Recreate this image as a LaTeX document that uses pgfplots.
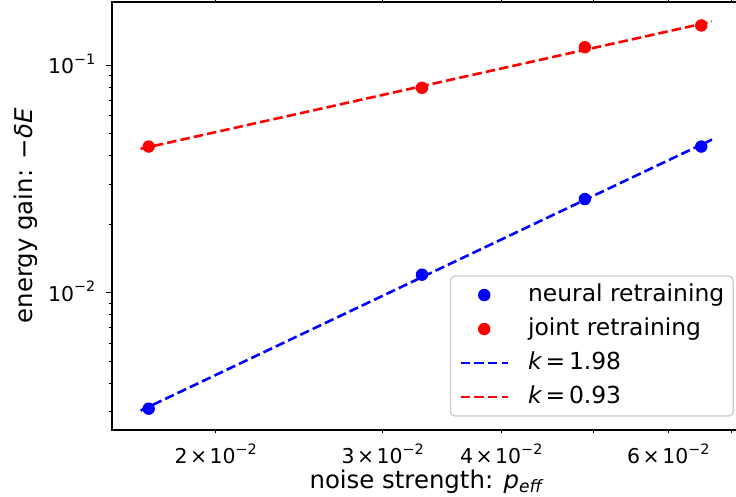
\documentclass[border=0pt]{standalone}
\usepackage{fontspec}
\setmainfont{DejaVu Sans}
\usepackage{pgfplots}
\pgfplotsset{compat=1.18}
\definecolor{mblue}{RGB}{0,0,255}
\definecolor{mred}{RGB}{255,0,0}
\newcommand\tickfont{\fontsize{20.5}{24}\selectfont}
\newcommand\labfont{\fontsize{24.5}{29}\selectfont}
\newcommand\legfont{\fontsize{23.5}{28}\selectfont}
\newcommand\sci[2]{#1\kern2.5bp×\kern2.5bp10\raisebox{0.45em}{\fontsize{14.4}{15}\selectfont −#2}}
\newcommand\pw[1]{10\raisebox{0.45em}{\fontsize{14.4}{15}\selectfont −#1}}
\begin{document}
\begin{tikzpicture}
\begin{axis}[
  xmode=log, ymode=log,
  scale only axis, width=628bp, height=428bp,
  xmin=0.01555, xmax=0.0714, ymin=0.00249, ymax=0.1897,
  axis line style={line width=1.37bp, black},
  every tick/.style={black, line width=1.37bp},
  minor tick style={line width=1.03bp},
  tick align=outside,
  major tick length=6bp, minor tick length=3.4bp,
  xtick={0.02,0.03,0.04,0.05,0.06,0.07},
  xticklabels={\sci{2}{2},\sci{3}{2},\sci{4}{2},,\sci{6}{2},},
  xtick style={/pgfplots/major tick length=3.4bp, line width=1.03bp},
  xminorticks=false,
  ytick={0.01,0.1},
  yticklabels={\pw{2},\pw{1}},
  minor ytick={0.003,0.004,0.005,0.006,0.007,0.008,0.009,0.02,0.03,0.04,0.05,0.06,0.07,0.08,0.09},
  xticklabel style={font=\tickfont, inner sep=0bp, anchor=base, yshift=-27.7bp},
  yticklabel style={font=\tickfont, inner sep=0bp, anchor=base east, xshift=-10.5bp, yshift=-8.4bp},
  xlabel={noise strength: {\itshape p}\textsubscript{\itshape eff}},
  ylabel={energy gain: −{\itshape δE}},
  xlabel style={font=\labfont, at={(axis description cs:0.5,0)}, anchor=base, yshift=-58bp, inner sep=0bp},
  ylabel style={font=\labfont, at={(axis description cs:0,0.5)}, anchor=base, yshift=79bp, inner sep=0bp},
  legend style={at={(axis description cs:0.9904,0.0311)}, anchor=south east,
    draw=black!20, line width=1.37bp, rounded corners=4.5bp, fill=white,
    font=\legfont, inner xsep=9bp, inner ysep=8bp, row sep=12bp,
    nodes={inner sep=0bp, text height=17bp, text depth=5bp},
    /tikz/every odd column/.append style={column sep=19bp}},
  legend cell align=left,
  legend image code/.code={\draw[mark repeat=2,mark phase=2,#1] plot coordinates {(0bp,0bp)(23.5bp,0bp)(47bp,0bp)};},
]
\addplot[only marks, mark=*, mark size=5.7bp, mblue, mark options={draw=mblue, fill=mblue, line width=1bp, solid}]
  coordinates {(0.0170,0.00309) (0.0330,0.0120) (0.0490,0.0258) (0.0650,0.0439)};
\addlegendentry{neural retraining}
\addplot[only marks, mark=*, mark size=5.7bp, mred, mark options={draw=mred, fill=mred, line width=1bp, solid}]
  coordinates {(0.0170,0.0439) (0.0330,0.0796) (0.0490,0.120) (0.0650,0.1496)};
\addlegendentry{joint retraining}
\addplot[mblue, line width=2.6bp, dash pattern=on 9.5bp off 4.1bp, no marks, rounded corners=0pt]
  coordinates {(0.01667,0.00303) (0.0667,0.0471)};
\addlegendentry{{\itshape k}\,=\,1.98}
\addplot[mred, line width=2.6bp, dash pattern=on 9.5bp off 4.1bp, no marks, rounded corners=0pt]
  coordinates {(0.01667,0.0429) (0.0667,0.1556)};
\addlegendentry{{\itshape k}\,=\,0.93}
\end{axis}
\pgfresetboundingbox
\path (-112bp,-67bp) rectangle (624bp,430bp);
\end{tikzpicture}
\end{document}
